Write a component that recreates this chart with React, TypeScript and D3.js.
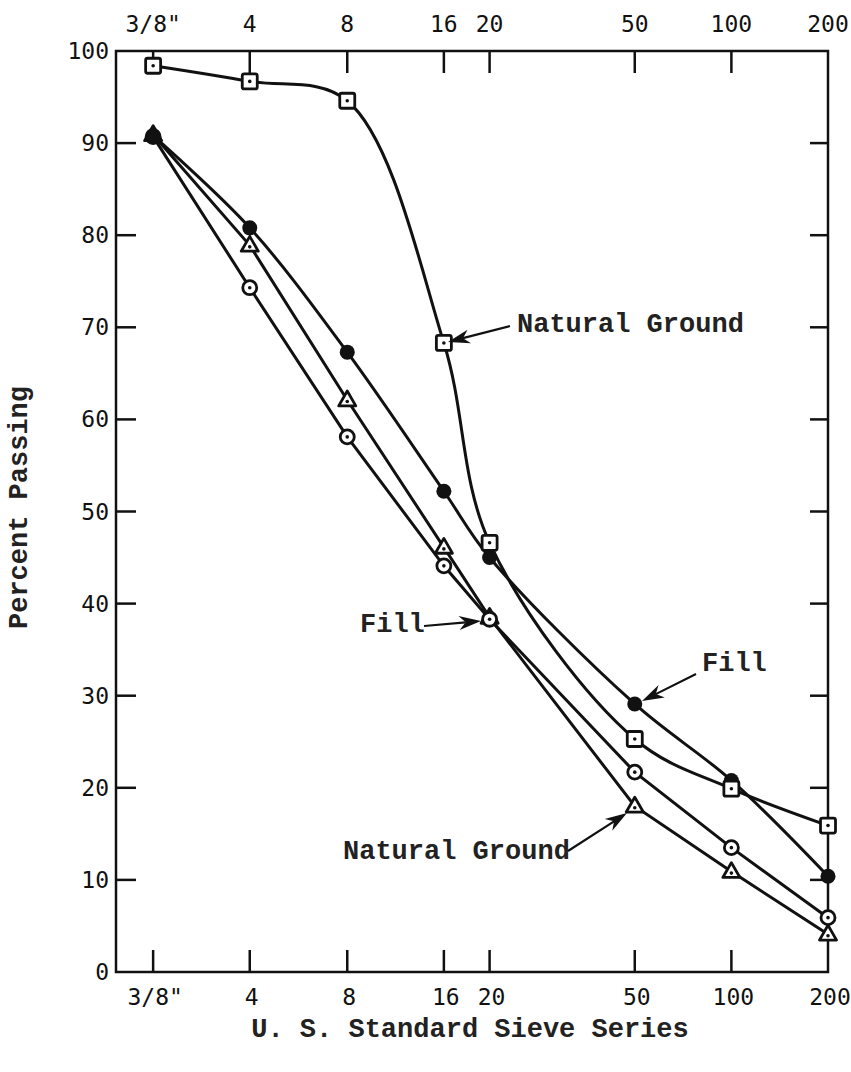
import React from "react";
import * as d3 from "d3";

const sieveLabels = ['3/8"', "4", "8", "16", "20", "50", "100", "200"];
const sieveOpenings = [9.5, 4.75, 2.36, 1.18, 0.85, 0.3, 0.15, 0.075];
const yTicks = [0, 10, 20, 30, 40, 50, 60, 70, 80, 90, 100];

const naturalGroundSquares = [98.4, 96.7, 94.6, 68.3, 46.6, 25.3, 19.9, 15.9];
const fillSolid = [90.8, 80.8, 67.3, 52.2, 45.0, 29.1, 20.8, 10.4];
const fillOpenCircle = [90.7, 74.3, 58.1, 44.1, 38.3, 21.7, 13.5, 5.9];
const naturalGroundTriangles = [90.9, 78.9, 62.1, 46.1, 38.5, 18.0, 10.9, 4.1];

const W = 851;
const H = 1072;
const L = 116, R = 828, T = 51, B = 972;

const x = d3.scaleLog().domain([12.4, 0.075]).range([L, R]);
const y = d3.scaleLinear().domain([0, 100]).range([B, T]);

const tickFont = "'DejaVu Sans Mono', monospace";
const labelFont = "'Liberation Mono', 'Courier New', monospace";

type Series = { values: number[]; marker: "square" | "solid" | "circle" | "triangle"; curve: d3.CurveFactory };
const series: Series[] = [
  { values: naturalGroundTriangles, marker: "triangle", curve: d3.curveLinear },
  { values: fillOpenCircle, marker: "circle", curve: d3.curveLinear },
  { values: fillSolid, marker: "solid", curve: d3.curveCatmullRom.alpha(0.5) },
  { values: naturalGroundSquares, marker: "square", curve: d3.curveCatmullRom.alpha(0.5) },
];

function Marker({ kind, cx, cy }: { kind: string; cx: number; cy: number }) {
  if (kind === "solid") return <circle cx={cx} cy={cy} r={7.5} fill="#111" />;
  if (kind === "square")
    return (
      <g>
        <rect x={cx - 7.5} y={cy - 7.5} width={15} height={15} rx={2} fill="#fff" stroke="#111" strokeWidth={2.8} />
        <circle cx={cx} cy={cy} r={1.8} fill="#111" />
      </g>
    );
  if (kind === "circle")
    return (
      <g>
        <circle cx={cx} cy={cy} r={7} fill="#fff" stroke="#111" strokeWidth={2.8} />
        <circle cx={cx} cy={cy} r={1.8} fill="#111" />
      </g>
    );
  const s = 9;
  const pts = [[cx, cy - s], [cx + s * 0.95, cy + s * 0.65], [cx - s * 0.95, cy + s * 0.65]];
  return (
    <g>
      <path d={"M" + pts.map((p) => p.join(",")).join("L") + "Z"} fill="#fff" stroke="#111" strokeWidth={2.8} strokeLinejoin="round" />
      <circle cx={cx} cy={cy + 1.5} r={1.8} fill="#111" />
    </g>
  );
}

function Arrow({ x1, y1, x2, y2 }: { x1: number; y1: number; x2: number; y2: number }) {
  const ang = Math.atan2(y2 - y1, x2 - x1);
  const len = 22, wid = 7;
  const bx = x2 - len * Math.cos(ang), by = y2 - len * Math.sin(ang);
  const nx = -Math.sin(ang), ny = Math.cos(ang);
  const mx = x2 - len * 0.7 * Math.cos(ang), my = y2 - len * 0.7 * Math.sin(ang);
  const head = `M${x2},${y2}L${bx + nx * wid},${by + ny * wid}L${mx},${my}L${bx - nx * wid},${by - ny * wid}Z`;
  return (
    <g>
      <line x1={x1} y1={y1} x2={mx} y2={my} stroke="#111" strokeWidth={2.2} />
      <path d={head} fill="#111" />
    </g>
  );
}

export default function App() {
  const line = (vals: number[], curve: d3.CurveFactory) =>
    d3.line<number>().x((_, i) => x(sieveOpenings[i])).y((v) => y(v)).curve(curve)(vals) || "";

  const lbl = { fontFamily: labelFont, fontSize: 27, fontWeight: "bold" as const, fill: "#222" };

  return (
    <svg width={W} height={H} style={{ position: "absolute", left: 0, top: 0, background: "#fff" }}>
      <rect x={0} y={0} width={W} height={H} fill="#fff" />
      {/* frame */}
      <rect x={L} y={T} width={R - L} height={B - T} fill="none" stroke="#111" strokeWidth={2.5} />
      {/* y ticks */}
      {yTicks.map((t) => (
        <g key={"y" + t}>
          {t > 0 && t < 100 && <line x1={L} x2={L + 20} y1={y(t)} y2={y(t)} stroke="#111" strokeWidth={2.5} />}
          {t > 0 && t < 100 && <line x1={R - 18} x2={R} y1={y(t)} y2={y(t)} stroke="#111" strokeWidth={2.5} />}
          <text x={L - 7} y={y(t)} textAnchor="end" dominantBaseline="central" fontFamily={tickFont} fontSize={23} fill="#111">
            {t}
          </text>
        </g>
      ))}
      {/* x ticks */}
      {sieveOpenings.map((o, i) => (
        <g key={"x" + i}>
          {i < sieveOpenings.length - 1 && (
            <>
              <line x1={x(o)} x2={x(o)} y1={T} y2={T + 22} stroke="#111" strokeWidth={2.5} />
              <line x1={x(o)} x2={x(o)} y1={B} y2={B - 22} stroke="#111" strokeWidth={2.5} />
            </>
          )}
          <text x={x(o)} y={T - 27} textAnchor="middle" fontFamily={tickFont} fontSize={23} fill="#111" dominantBaseline="central">
            {sieveLabels[i]}
          </text>
          <text x={x(o) + 2} y={B + 25} textAnchor="middle" fontFamily={tickFont} fontSize={23} fill="#111" dominantBaseline="central">
            {sieveLabels[i]}
          </text>
        </g>
      ))}
      {/* lines */}
      {series.map((s, i) => (
        <path key={"l" + i} d={line(s.values, s.curve)} fill="none" stroke="#111" strokeWidth={3} />
      ))}
      {/* markers */}
      {series.map((s, i) =>
        s.values.map((v, j) => <Marker key={`m${i}-${j}`} kind={s.marker} cx={x(sieveOpenings[j])} cy={y(v)} />)
      )}
      {/* annotations */}
      <text x={517} y={325} {...lbl} dominantBaseline="central">
        Natural Ground
      </text>
      <Arrow x1={510} y1={326} x2={448} y2={342} />
      <text x={360} y={625} {...lbl} dominantBaseline="central">
        Fill
      </text>
      <Arrow x1={424} y1={626} x2={481} y2={621} />
      <text x={702} y={664} {...lbl} dominantBaseline="central">
        Fill
      </text>
      <Arrow x1={696} y1={674} x2={642} y2={701} />
      <text x={343} y={852} {...lbl} dominantBaseline="central">
        Natural Ground
      </text>
      <Arrow x1={568} y1={851} x2={627} y2={813} />
      {/* axis titles */}
      <text transform={`translate(20,${(385 + 630) / 2}) rotate(-90)`} textAnchor="middle" dominantBaseline="central" {...lbl}>
        Percent Passing
      </text>
      <text x={470} y={1030} textAnchor="middle" dominantBaseline="central" {...lbl}>
        U. S. Standard Sieve Series
      </text>
    </svg>
  );
}
